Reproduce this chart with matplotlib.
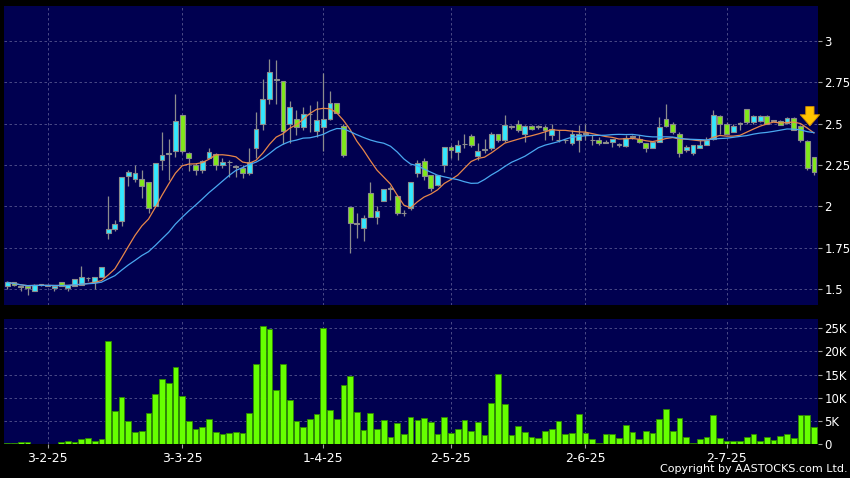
import numpy as np
import pandas as pd
import matplotlib
matplotlib.use('Agg')
import matplotlib.pyplot as plt

# daily candles, oldest first (index 0 .. 120)
opens = [1.52, 1.54, 1.515, 1.52, 1.49, 1.525, 1.52, 1.505, 1.54, 1.506,
         1.52, 1.525, 1.565, 1.54, 1.572, 1.838, 1.862, 1.914, 2.185, 2.165,
         2.168, 2.15, 1.999, 2.28, 2.315, 2.337, 2.55, 2.32, 2.248, 2.22,
         2.29, 2.316, 2.25, 2.265, 2.24, 2.23, 2.20, 2.35, 2.50, 2.65,
         2.767, 2.759, 2.50, 2.53, 2.48, 2.556, 2.456, 2.48, 2.53, 2.626,
         2.488, 1.998, 1.894, 1.868, 2.079, 1.938, 2.029, 2.107, 2.063, 1.958,
         1.989, 2.20, 2.275, 2.19, 2.13, 2.25, 2.36, 2.33, 2.375, 2.425,
         2.305, 2.34, 2.35, 2.44, 2.40, 2.48, 2.50, 2.44, 2.485, 2.48,
         2.48, 2.43, 2.40, 2.40, 2.38, 2.40, 2.44, 2.40, 2.40, 2.385,
         2.39, 2.37, 2.365, 2.425, 2.41, 2.38, 2.35, 2.39, 2.53, 2.50,
         2.44, 2.34, 2.325, 2.355, 2.37, 2.405, 2.548, 2.497, 2.45, 2.50,
         2.59, 2.51, 2.515, 2.548, 2.517, 2.517, 2.505, 2.537, 2.485, 2.397,
         2.30]
highs = [1.54, 1.54, 1.52, 1.52, 1.53, 1.53, 1.525, 1.516, 1.54, 1.526,
         1.56, 1.637, 1.575, 1.57, 1.633, 2.063, 1.918, 2.18, 2.22, 2.25,
         2.22, 2.15, 2.26, 2.45, 2.41, 2.68, 2.55, 2.33, 2.26, 2.28,
         2.35, 2.32, 2.29, 2.28, 2.25, 2.25, 2.35, 2.57, 2.77, 2.89,
         2.884, 2.759, 2.64, 2.58, 2.60, 2.61, 2.64, 2.807, 2.70, 2.626,
         2.50, 1.998, 1.96, 1.95, 2.15, 2.0, 2.103, 2.12, 2.063, 1.975,
         2.15, 2.28, 2.29, 2.19, 2.19, 2.36, 2.37, 2.40, 2.44, 2.44,
         2.38, 2.41, 2.45, 2.44, 2.55, 2.49, 2.52, 2.49, 2.49, 2.49,
         2.49, 2.50, 2.46, 2.41, 2.46, 2.49, 2.50, 2.43, 2.42, 2.40,
         2.41, 2.38, 2.43, 2.43, 2.43, 2.38, 2.39, 2.54, 2.62, 2.51,
         2.45, 2.37, 2.37, 2.40, 2.42, 2.58, 2.55, 2.51, 2.50, 2.51,
         2.59, 2.55, 2.55, 2.55, 2.525, 2.525, 2.54, 2.54, 2.49, 2.40,
         2.30]
lows = [1.50, 1.52, 1.49, 1.466, 1.49, 1.52, 1.515, 1.49, 1.52, 1.486,
        1.52, 1.525, 1.545, 1.50, 1.57, 1.80, 1.848, 1.878, 2.12, 2.15,
        2.05, 1.96, 1.999, 2.22, 2.16, 2.30, 2.32, 2.215, 2.19, 2.20,
        2.29, 2.22, 2.23, 2.18, 2.175, 2.17, 2.19, 2.29, 2.46, 2.62,
        2.62, 2.376, 2.38, 2.43, 2.46, 2.45, 2.42, 2.337, 2.52, 2.566,
        2.30, 1.72, 1.81, 1.79, 1.938, 1.89, 2.029, 2.04, 1.95, 1.94,
        1.975, 2.18, 2.16, 2.09, 2.12, 2.21, 2.29, 2.28, 2.35, 2.36,
        2.28, 2.32, 2.34, 2.39, 2.39, 2.47, 2.45, 2.39, 2.46, 2.47,
        2.40, 2.40, 2.39, 2.38, 2.37, 2.33, 2.40, 2.37, 2.37, 2.38,
        2.36, 2.36, 2.36, 2.41, 2.38, 2.33, 2.35, 2.39, 2.48, 2.44,
        2.30, 2.33, 2.31, 2.35, 2.37, 2.40, 2.44, 2.44, 2.45, 2.46,
        2.50, 2.50, 2.51, 2.50, 2.51, 2.49, 2.50, 2.46, 2.39, 2.22,
        2.19]
closes = [1.54, 1.525, 1.51, 1.505, 1.526, 1.525, 1.52, 1.516, 1.52, 1.526,
          1.56, 1.57, 1.565, 1.57, 1.633, 1.862, 1.894, 2.18, 2.21, 2.20,
          2.123, 1.99, 2.26, 2.31, 2.32, 2.517, 2.337, 2.29, 2.22, 2.274,
          2.33, 2.25, 2.27, 2.265, 2.24, 2.20, 2.265, 2.47, 2.65, 2.81,
          2.767, 2.455, 2.598, 2.48, 2.56, 2.556, 2.52, 2.53, 2.626, 2.566,
          2.31, 1.898, 1.894, 1.928, 1.938, 1.973, 2.103, 2.107, 1.958, 1.958,
          2.15, 2.26, 2.185, 2.11, 2.19, 2.36, 2.34, 2.37, 2.375, 2.37,
          2.335, 2.34, 2.44, 2.40, 2.49, 2.48, 2.46, 2.485, 2.47, 2.48,
          2.46, 2.47, 2.40, 2.40, 2.44, 2.44, 2.44, 2.40, 2.38, 2.39,
          2.41, 2.37, 2.415, 2.42, 2.39, 2.35, 2.39, 2.48, 2.485, 2.45,
          2.32, 2.36, 2.37, 2.37, 2.40, 2.55, 2.50, 2.44, 2.485, 2.50,
          2.51, 2.548, 2.545, 2.50, 2.517, 2.49, 2.537, 2.46, 2.40, 2.23,
          2.21]
volumes = [290, 200, 360, 360, 70, 70, 50, 50, 500, 570,
           430, 1000, 1200, 570, 1000, 22270, 7230, 10240, 4940, 2500,
           2790, 6730, 10810, 13960, 13170, 16540, 10310, 4940, 3290, 3720,
           5300, 2650, 2080, 2430, 2500, 2360, 6730, 17260, 25490, 24920,
           11600, 17180, 9590, 4940, 3580, 5370, 6520, 24990, 7450, 5300,
           12820, 14750, 7020, 2940, 6730, 3150, 5080, 1500, 4510, 2150,
           5730, 5080, 5540, 4820, 2160, 5760, 2380, 3240, 5180, 2810,
           4820, 2020, 8780, 15120, 8710, 1870, 3890, 2520, 1510, 1370,
           2880, 3310, 4970, 2160, 2450, 6480, 2450, 1010, 290, 2090,
           2090, 1300, 4030, 2660, 1010, 2810, 2380, 5330, 7560, 2880,
           5540, 1580, 290, 1150, 1580, 6340, 1220, 580, 580, 580,
           1510, 2230, 720, 1580, 860, 1660, 2090, 1370, 6190, 6190,
           3740]

tick_idx = [6, 26, 47, 66, 86, 107]
tick_lbl = ['3-2-25', '3-3-25', '1-4-25', '2-5-25', '2-6-25', '2-7-25']
price_ticks = [1.5, 1.75, 2, 2.25, 2.5, 2.75, 3]
vol_ticks = [0, 5000, 10000, 15000, 20000, 25000]
vol_lbl = ['0', '5K', '10K', '15K', '20K', '25K']

df = pd.DataFrame({'o': opens, 'h': highs, 'l': lows, 'c': closes, 'v': volumes})
df['ma10'] = df['c'].rolling(10, min_periods=1).mean()
df['ma20'] = df['c'].rolling(20, min_periods=1).mean()
x = np.arange(len(df))

bg = '#000050'
gridc = '#55558f'
up_c = '#33e8ff'
dn_c = '#80e81a'
flat_c = '#9a9aa0'

fig = plt.figure(figsize=(8.5, 4.78), dpi=100, facecolor='black')
ax = fig.add_axes([0.0047, 0.362, 0.9576, 0.6255], facecolor=bg)
axv = fig.add_axes([0.0047, 0.0711, 0.9576, 0.2615], facecolor=bg)

# candles
colors = np.where(df.c > df.o, up_c, np.where(df.c < df.o, dn_c, flat_c))
ax.vlines(x, df.l, df.h, color='#8c8c8c', linewidth=0.9, zorder=2)
bottom = np.minimum(df.o, df.c)
height = np.maximum(np.abs(df.c - df.o), 0.004)
ax.bar(x, height, 0.72, bottom=bottom, color=colors, edgecolor='#8c8c8c',
       linewidth=0.8, zorder=3)
ax.plot(x, df.ma10, color='#e8874a', linewidth=0.9, zorder=4)
ax.plot(x, df.ma20, color='#4aa8f0', linewidth=0.9, zorder=4)

# sell signal arrow on the last sessions
ax.annotate('', xy=(len(df) - 1.6, 2.47), xytext=(len(df) - 1.6, 2.62),
            arrowprops=dict(arrowstyle='simple,head_width=1.4,head_length=0.8,tail_width=0.6',
                            facecolor='#ffc400', edgecolor='#d08a00', linewidth=0.6),
            zorder=5)

ax.set_xlim(-0.5, 120.6)
ax.set_ylim(1.403, 3.212)
ax.set_yticks(price_ticks)
ax.set_yticklabels(['%g' % t for t in price_ticks])
ax.set_xticks(tick_idx)
ax.tick_params(axis='x', length=0, labelbottom=False)
ax.yaxis.tick_right()
ax.tick_params(axis='y', colors='#a0a0a0', labelcolor='white', length=3,
               width=0.8, labelsize=8.5, pad=1.5)
ax.grid(True, color=gridc, linestyle=(0, (3, 3)), linewidth=0.6)
ax.set_axisbelow(True)

# volume
axv.bar(x, df.v, 0.85, color='#66ff00', edgecolor='#2f8a00', linewidth=0.6, zorder=3)
axv.set_xlim(-0.5, 120.6)
axv.set_ylim(0, 27000)
axv.set_yticks(vol_ticks)
axv.set_yticklabels(vol_lbl)
axv.yaxis.tick_right()
axv.tick_params(axis='y', colors='#a0a0a0', labelcolor='white', length=3,
                width=0.8, labelsize=8.5, pad=1.5)
axv.set_xticks(tick_idx)
axv.set_xticklabels(tick_lbl)
axv.tick_params(axis='x', colors='#a0a0a0', labelcolor='white', length=3,
                width=0.8, labelsize=9, pad=3)
axv.grid(True, color=gridc, linestyle=(0, (3, 3)), linewidth=0.6)
axv.set_axisbelow(True)

for a in (ax, axv):
    for s in a.spines.values():
        s.set_visible(False)

fig.text(0.997, 0.008, 'Copyright by AASTOCKS.com Ltd.', color='white',
         fontsize=8, ha='right', va='bottom')

fig.savefig('out.png', dpi=100, facecolor='black')
